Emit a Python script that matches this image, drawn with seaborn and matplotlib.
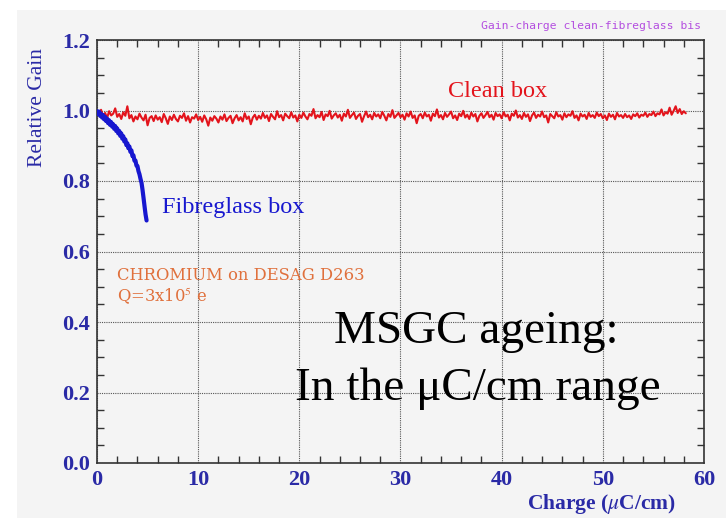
import numpy as np
import pandas as pd
import matplotlib
matplotlib.use("Agg")
import matplotlib.pyplot as plt
from matplotlib.patches import Rectangle
from matplotlib.ticker import MultipleLocator
import seaborn as sns

# Relative gain versus accumulated charge (uC/cm), sampled every 0.2 uC/cm
clean_step = 0.2
clean_gain = [
    0.995, 0.988, 1.002, 0.984, 0.993, 0.979, 0.998, 0.986, 0.991, 1.006,
    0.982, 0.990, 0.976, 0.995, 0.985, 1.012, 0.978, 0.987, 0.969, 0.983,
    0.975, 0.991, 0.980, 0.972, 0.988, 0.958, 0.979, 0.984, 0.970, 0.986,
    0.974, 0.981, 0.967, 0.990, 0.978, 0.962, 0.983, 0.973, 0.988, 0.976,
    0.969, 0.985, 0.979, 0.992, 0.971, 0.984, 0.966, 0.981, 0.977, 0.989,
    0.973, 0.982, 0.968, 0.986, 0.975, 0.957, 0.980, 0.971, 0.984, 0.977,
    0.966, 0.983, 0.974, 0.989, 0.970, 0.979, 0.985, 0.964, 0.978, 0.987,
    0.972, 0.981, 0.969, 0.992, 0.976, 0.983, 0.961, 0.980, 0.988, 0.974,
    0.985, 0.977, 0.993, 0.979, 0.986, 0.970, 0.990, 0.982, 0.975, 0.998,
    0.981, 0.987, 0.972, 0.991, 0.984, 0.978, 0.995, 0.980, 0.986, 0.969,
    0.988, 0.979, 0.994, 0.983, 0.975, 0.990, 0.985, 1.004, 0.978, 0.987,
    0.981, 0.996, 0.973, 0.989, 0.984, 0.999, 0.977, 0.986, 0.992, 0.980,
    0.988, 0.971, 0.991, 0.983, 1.002, 0.979, 0.987, 0.994, 0.976, 0.985,
    0.990, 0.968, 0.984, 0.997, 0.981, 0.988, 0.975, 0.993, 0.983, 0.989,
    0.978, 0.996, 0.985, 0.972, 0.990, 0.982, 1.001, 0.979, 0.986, 0.993,
    0.981, 0.988, 0.974, 0.992, 0.983, 0.997, 0.979, 0.986, 0.964, 0.985,
    0.990, 0.978, 0.994, 0.983, 0.988, 0.971, 0.991, 0.984, 1.003, 0.980,
    0.987, 0.975, 0.993, 0.982, 0.989, 0.997, 0.978, 0.986, 0.973, 0.991,
    0.984, 0.999, 0.980, 0.988, 0.976, 0.994, 0.983, 0.990, 0.969, 0.985,
    0.992, 0.979, 0.987, 0.996, 0.981, 0.988, 0.974, 0.993, 0.984, 0.989,
    0.978, 0.995, 0.983, 0.988, 0.972, 0.991, 0.985, 1.000, 0.980, 0.987,
    0.976, 0.993, 0.982, 0.989, 0.970, 0.986, 0.994, 0.979, 0.988, 0.983,
    0.997, 0.981, 0.986, 0.966, 0.990, 0.984, 0.978, 0.995, 0.983, 0.987,
    0.974, 0.992, 0.981, 0.989, 0.985, 0.998, 0.979, 0.986, 0.972, 0.991,
    0.983, 0.988, 0.976, 0.993, 0.982, 0.987, 0.979, 0.994, 0.984, 0.990,
    0.978, 0.986, 0.973, 0.991, 0.982, 0.988, 0.975, 0.993, 0.983, 0.987,
    0.979, 0.990, 0.981, 0.986, 0.976, 0.989, 0.984, 0.992, 0.980, 0.988,
    0.985, 0.994, 0.982, 0.990, 0.987, 0.997, 0.984, 0.992, 0.989, 1.003,
    0.986, 0.995, 0.991, 1.008, 0.988, 0.999, 1.012, 0.993, 1.004, 0.990,
    0.998, 0.992,
]

# Fibreglass box, sampled every 0.1 uC/cm
fibre_step = 0.1
fibre_gain = [
    0.998, 0.990, 0.997, 0.985, 0.991, 0.980, 0.987, 0.975, 0.982, 0.970,
    0.977, 0.964, 0.972, 0.959, 0.967, 0.954, 0.961, 0.948, 0.956, 0.942,
    0.949, 0.935, 0.942, 0.928, 0.935, 0.920, 0.927, 0.912, 0.918, 0.902,
    0.907, 0.893, 0.898, 0.883, 0.887, 0.871, 0.873, 0.858, 0.858, 0.844,
    0.842, 0.828, 0.819, 0.806, 0.795, 0.775, 0.752, 0.728, 0.705, 0.688,
]

x_ticks = [0, 10, 20, 30, 40, 50, 60]
y_ticks = [0.0, 0.2, 0.4, 0.6, 0.8, 1.0, 1.2]

clean_df = pd.DataFrame({"charge": np.arange(len(clean_gain)) * clean_step,
                         "gain": clean_gain})
fibre_df = pd.DataFrame({"charge": np.arange(len(fibre_gain)) * fibre_step,
                         "gain": fibre_gain})

sns.set_theme(style="ticks")
plt.rcParams["font.family"] = ["Liberation Serif", "DejaVu Serif"]
plt.rcParams["mathtext.fontset"] = "stix"

BG = "#f4f4f4"
TICK_BLUE = "#2a2aa6"
RED = "#e3141c"
BLUE = "#1717cf"
ORANGE = "#e0703c"


def fx(px):
    return px / 726


def fy(py):
    return 1 - py / 518


fig = plt.figure(figsize=(7.26, 5.18), dpi=100)
fig.patch.set_facecolor("white")
fig.patches.append(Rectangle((fx(17), 0.0), 1 - fx(17), fy(10),
                             transform=fig.transFigure, facecolor=BG,
                             edgecolor="none", zorder=-10))

ax = fig.add_axes([fx(97), fy(463), 607 / 726, 423 / 518])
ax.set_facecolor(BG)

sns.lineplot(data=clean_df, x="charge", y="gain", ax=ax, color=RED,
             linewidth=1.5, zorder=3)
sns.lineplot(data=fibre_df, x="charge", y="gain", ax=ax, color=BLUE,
             linewidth=3.0, zorder=4)

ax.set_xlim(0, 60)
ax.set_ylim(0, 1.2)
ax.set_xticks(x_ticks)
ax.set_yticks(y_ticks)
ax.set_xticklabels([str(t) for t in x_ticks])
ax.set_yticklabels([f"{t:.1f}" for t in y_ticks])
ax.xaxis.set_minor_locator(MultipleLocator(2))
ax.yaxis.set_minor_locator(MultipleLocator(0.05))
ax.set_xlabel("")
ax.set_ylabel("")

ax.grid(True, which="major", linestyle=(0, (1, 1)), color="#555555",
        linewidth=0.8)
ax.tick_params(which="both", direction="in", top=True, right=True,
               color="#333333")
ax.tick_params(which="major", length=0, width=1, labelsize=16,
               labelcolor=TICK_BLUE, pad=5)
ax.tick_params(which="minor", length=5, width=1)
for lab in ax.get_xticklabels() + ax.get_yticklabels():
    lab.set_fontweight("bold")
for sp in ax.spines.values():
    sp.set_color("#333333")
    sp.set_linewidth(1.2)

# Axis titles
fig.text(fx(37), fy(108), "Relative Gain", rotation=90,
         ha="center", va="center", color=TICK_BLUE, fontsize=15.5)
fig.text(fx(602), fy(509), "Charge ($\\mathit{\\mu}$C/cm)", ha="center",
         va="baseline", color=TICK_BLUE, fontsize=15.5, fontweight="bold")

# Plot identifier
fig.text(fx(701), fy(26), "Gain-charge clean-fibreglass bis",
         ha="right", va="center", color="#b44ee0", fontsize=8.2,
         family="DejaVu Sans Mono")

# Series labels
fig.text(fx(498), fy(97), "Clean box", ha="center", va="baseline",
         color=RED, fontsize=17.5)
fig.text(fx(233), fy(213), "Fibreglass box", ha="center",
         va="baseline", color=BLUE, fontsize=17.5)

# Sample description
fig.text(fx(117), fy(280), "CHROMIUM on DESAG D263", ha="left",
         va="baseline", color=ORANGE, fontsize=11.8, family="DejaVu Serif")
fig.text(fx(117), fy(301), "Q=3x10$^{5}$ e", ha="left",
         va="baseline", color=ORANGE, fontsize=11.8, family="DejaVu Serif")

# Headline
fig.text(fx(476), fy(343), "MSGC ageing:", ha="center",
         va="baseline", color="black", fontsize=34)
fig.text(fx(478), fy(400), "In the \u03bcC/cm range", ha="center",
         va="baseline", color="black", fontsize=34)

fig.savefig("out.png", dpi=100, facecolor=fig.get_facecolor())
